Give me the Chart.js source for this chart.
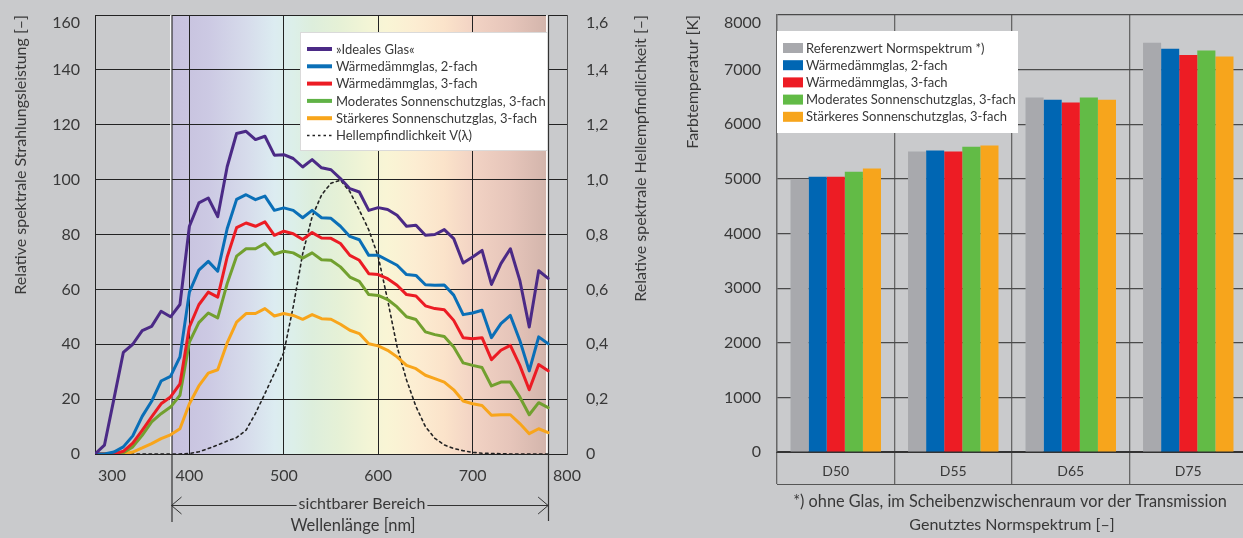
<!DOCTYPE html>
<html>
<head>
<meta charset="utf-8">
<script src="https://cdn.jsdelivr.net/npm/chart.js@4/dist/chart.umd.min.js"></script>
<style>
  html, body { margin: 0; padding: 0; background: #c9cacc; overflow: hidden; width: 1243px; height: 538px; }
  #spectrum { position: absolute; left: 0; top: 0; }
  #cct { position: absolute; left: 670px; top: 0; }
</style>
</head>
<body>
<canvas id="spectrum" width="665" height="538"></canvas>
<canvas id="cct" width="590" height="538"></canvas>
<script>
// ---------- Spectral data (10 nm steps) ----------
const wavelengths = [300, 310, 320, 330, 340, 350, 360, 370, 380, 390,
                     400, 410, 420, 430, 440, 450, 460, 470, 480, 490,
                     500, 510, 520, 530, 540, 550, 560, 570, 580, 590,
                     600, 610, 620, 630, 640, 650, 660, 670, 680, 690,
                     700, 710, 720, 730, 740, 750, 760, 770, 780];

const idealGlass = [0, 3.2, 20, 37, 40, 45, 46.5, 52, 50, 54.5,
                    83, 91.5, 93.3, 86.5, 104.7, 116.8, 117.6, 114.6, 115.8, 108.9,
                    109.1, 107.7, 104.6, 107.3, 104.3, 103.6, 100.4, 96.7, 95.5, 88.8,
                    89.8, 89.1, 87, 83, 83.4, 79.7, 80, 81.8, 78.5, 69.6,
                    71.8, 74.2, 61.8, 69.4, 74.8, 63.3, 46.3, 66.8, 64];

const insulating2 = [0, 0, 0.7, 2.6, 6.6, 13.7, 19.2, 26.6, 28.3, 35.4,
                     59, 67, 70.2, 66.6, 82.1, 92.8, 94.5, 92.7, 94, 88.8,
                     89.7, 88.8, 86.1, 88.8, 86.1, 85.9, 83, 79.3, 78.1, 72.4,
                     72.4, 70.6, 68.8, 65.4, 65.1, 61.7, 61.5, 61.6, 57.9, 50.8,
                     51.4, 52.4, 42.4, 47.5, 50.5, 41.4, 30.3, 42.7, 40.2];

const insulating3 = [0, 0, 0, 1, 4, 8.6, 13.5, 18.3, 20.8, 25.6,
                     46.3, 54.4, 59, 57.2, 71.8, 82.5, 84.2, 83, 84.6, 79.7,
                     81.2, 80.3, 78.2, 80.7, 78.7, 78.6, 76.7, 72.4, 70.6, 65.7,
                     65.4, 63.9, 61.5, 58.1, 57.6, 54, 53, 52.6, 48.7, 42.4,
                     42, 42.4, 34.4, 37.8, 39.6, 32.3, 23.4, 32.6, 30.3];

const solarModerate = [0, 0, 0, 0.5, 2.6, 6.8, 11.7, 14.7, 17.1, 21.4,
                       40.8, 47.9, 51.4, 49.6, 62.1, 72.1, 74.8, 74.8, 76.7, 72.8,
                       73.9, 73.3, 71.4, 73.3, 70.8, 70.6, 68.2, 64.5, 62.9, 58.1,
                       57.8, 56.3, 53.6, 50, 49, 44.5, 43.5, 42.8, 39, 33.2,
                       32.3, 31.5, 24.8, 26.2, 26.2, 20.8, 14.3, 18.7, 16.9];

const solarStrong = [0, 0, 0, 0.1, 0.7, 2.2, 3.8, 5.6, 7, 9.2,
                     18.3, 24.8, 29.5, 30.7, 40.5, 48.1, 51.2, 51.2, 53, 50.3,
                     51.2, 50.5, 49.1, 50.8, 49.3, 49.1, 47.3, 45.1, 43.9, 40.2,
                     39.4, 37.8, 35.4, 32.3, 31.1, 28.7, 27.5, 26.2, 23.4, 19.3,
                     18.3, 17.7, 14.1, 14.3, 14.3, 11.1, 7.4, 9.2, 7.8];

const luminosity = [0, 0, 0, 0, 0, 0, 0, 0, 0, 0,
                    0.002, 0.008, 0.02, 0.033, 0.047, 0.06, 0.087, 0.148, 0.22, 0.294,
                    0.37, 0.537, 0.73, 0.865, 0.944, 0.987, 0.998, 0.956, 0.889, 0.817,
                    0.72, 0.561, 0.391, 0.27, 0.173, 0.1, 0.057, 0.033, 0.02, 0.012,
                    0.006, 0.003, 0.002, 0.001, 0, 0, 0, 0, 0];

const visibleRange = [380, 780];
const xTickValues = [300, 400, 500, 600, 700, 800];
const leftTickLabels = ['0', '20', '40', '60', '80', '100', '120', '140', '160'];
const rightTickLabels = ['0', '0,2', '0,4', '0,6', '0,8', '1,0', '1,2', '1,4', '1,6'];

// ---------- Colour temperature data ----------
const illuminants = ['D50', 'D55', 'D65', 'D75'];
const cctReference = [5000, 5500, 6490, 7490];
const cctInsulating2 = [5040, 5520, 6450, 7380];
const cctInsulating3 = [5040, 5500, 6400, 7270];
const cctSolarModerate = [5130, 5590, 6490, 7350];
const cctSolarStrong = [5190, 5610, 6450, 7240];
const cctTickLabels = ['0', '1000', '2000', '3000', '4000', '5000', '6000', '7000', '8000'];

const FONT = 'Lato, "Open Sans", "DejaVu Sans", sans-serif';
const TEXT = '#383838';
Chart.defaults.font.family = FONT;
Chart.defaults.color = TEXT;

// visible-light backdrop colours
const bandStops = [
  [380, '#c6c0dd'], [420, '#ccc9e3'], [460, '#d6dbeb'], [490, '#dcecf1'],
  [510, '#dcefe9'], [530, '#ddeedc'], [560, '#e6f1d6'], [590, '#f3f5d6'],
  [610, '#f9f5d5'], [640, '#fcedd2'], [670, '#fbe3ca'], [700, '#f2d3c4'],
  [740, '#e6c5ba'], [780, '#d2b4ab']
];

const toPoints = vals => wavelengths.map((w, i) => ({ x: w, y: vals[i] }));

// keep the plot frame where the layout padding puts it
function noEdgePadding(s) { s.paddingTop = 0; s.paddingBottom = 0; s.paddingLeft = 0; s.paddingRight = 0; }

// the top tick label of a value axis is set a little below its grid line
function lastBlank(labels) { return (v, i) => (i === labels.length - 1 ? '' : labels[i]); }
function drawTopLabel(ctx, scale, labels, x, align) {
  const top = labels[labels.length - 1];
  ctx.save();
  ctx.font = '16px ' + FONT;
  ctx.fillStyle = TEXT;
  ctx.textAlign = align;
  ctx.textBaseline = 'middle';
  ctx.fillText(top, x, scale.getPixelForValue(scale.max) + 7.5);
  ctx.restore();
}

const spectrumDecor = {
  id: 'spectrumDecor',
  beforeDraw(chart) {
    const { ctx, chartArea: a, scales: { x } } = chart;
    const x0 = x.getPixelForValue(visibleRange[0]);
    const x1 = x.getPixelForValue(visibleRange[1]);
    const g = ctx.createLinearGradient(x0, 0, x1, 0);
    bandStops.forEach(([nm, c]) => g.addColorStop((nm - visibleRange[0]) / (visibleRange[1] - visibleRange[0]), c));
    ctx.save();
    ctx.fillStyle = g;
    ctx.fillRect(x0, a.top, x1 - x0, a.bottom - a.top);
    ctx.restore();
  },
  beforeDatasetsDraw(chart) {
    const { ctx, chartArea: a, scales: { x } } = chart;
    const x0 = Math.round(x.getPixelForValue(visibleRange[0]));
    const x1 = Math.round(x.getPixelForValue(visibleRange[1]));
    ctx.save();
    ctx.fillStyle = 'rgba(255,255,255,0.9)';
    ctx.fillRect(x0 - 1, a.top, 2, a.bottom - a.top);
    ctx.fillRect(x1 - 2, a.top, 2, a.bottom - a.top);
    ctx.strokeStyle = '#333';
    ctx.lineWidth = 1.2;
    ctx.beginPath();
    ctx.moveTo(x0 + 1, a.top); ctx.lineTo(x0 + 1, 522);
    ctx.moveTo(x1 + 0.5, a.top); ctx.lineTo(x1 + 0.5, 521);
    ctx.stroke();
    ctx.restore();
  },
  afterDatasetsDraw(chart) {
    const { ctx } = chart;
    // legend
    ctx.save();
    ctx.fillStyle = '#ffffff';
    ctx.fillRect(300, 32, 248, 119);
    ctx.strokeStyle = 'rgba(150,150,150,0.35)';
    ctx.lineWidth = 1;
    ctx.strokeRect(300.5, 32.5, 247, 118);
    ctx.font = '13px ' + FONT;
    ctx.textBaseline = 'middle';
    chart.data.datasets.forEach((ds, i) => {
      const y = 49 + i * 17.3;
      ctx.beginPath();
      ctx.strokeStyle = ds.legendColor || ds.borderColor;
      if (ds.borderDash) { ctx.setLineDash([2.5, 3]); ctx.lineWidth = 1.5; }
      else { ctx.setLineDash([]); ctx.lineWidth = 4; }
      ctx.moveTo(307, y); ctx.lineTo(332, y);
      ctx.stroke();
      ctx.setLineDash([]);
      ctx.fillStyle = TEXT;
      ctx.fillText(ds.label, 336, y + 0.5);
    });
    ctx.restore();
  },
  afterDraw(chart) {
    const { ctx, chartArea: a, scales: { x, y, y2 } } = chart;
    drawTopLabel(ctx, y, leftTickLabels, a.left - 15, 'right');
    drawTopLabel(ctx, y2, rightTickLabels, a.right + 19, 'left');
    const x0 = x.getPixelForValue(visibleRange[0]) + 1;
    const x1 = x.getPixelForValue(visibleRange[1]);
    const ay = 505;
    ctx.save();
    // first wavelength label sits just inside the frame
    ctx.font = '16px ' + FONT;
    ctx.fillStyle = TEXT;
    ctx.textAlign = 'center';
    ctx.textBaseline = 'middle';
    ctx.fillText(String(xTickValues[0]), x.getPixelForValue(xTickValues[0]) + 17, 476);

    const label = 'sichtbarer Bereich';
    const cx = 362;
    const w = ctx.measureText(label).width;
    ctx.fillText(label, cx, ay - 1);
    ctx.strokeStyle = '#333';
    ctx.lineWidth = 1;
    ctx.beginPath();
    ctx.moveTo(x0, ay + 0.5); ctx.lineTo(cx - w / 2 - 2, ay + 0.5);
    ctx.moveTo(cx + w / 2 + 2, ay + 0.5); ctx.lineTo(x1, ay + 0.5);
    ctx.moveTo(x0 + 10, ay - 8); ctx.lineTo(x0, ay + 0.5); ctx.lineTo(x0 + 10, ay + 9);
    ctx.moveTo(x1 - 10, ay - 8); ctx.lineTo(x1, ay + 0.5); ctx.lineTo(x1 - 10, ay + 9);
    ctx.stroke();
    ctx.font = '16.5px ' + FONT;
    ctx.fillText('Wellenlänge [nm]', 353, 526);
    // right axis title, reading bottom to top
    ctx.translate(641, a.top);
    ctx.rotate(-Math.PI / 2);
    ctx.textAlign = 'right';
    ctx.font = '16px ' + FONT;
    ctx.fillText('Relative spektrale Hellempfindlichkeit [–]', 0, 0);
    ctx.restore();
  }
};

new Chart(document.getElementById('spectrum'), {
  type: 'line',
  data: {
    datasets: [
      { label: '»Ideales Glas«', data: toPoints(idealGlass), borderColor: '#4b2a86', yAxisID: 'y' },
      { label: 'Wärmedämmglas, 2-fach', data: toPoints(insulating2), borderColor: '#0a6fb7', yAxisID: 'y' },
      { label: 'Wärmedämmglas, 3-fach', data: toPoints(insulating3), borderColor: '#ec1c24', yAxisID: 'y' },
      { label: 'Moderates Sonnenschutzglas, 3-fach', data: toPoints(solarModerate), borderColor: '#72a02f', legendColor: '#60b246', yAxisID: 'y' },
      { label: 'Stärkeres Sonnenschutzglas, 3-fach', data: toPoints(solarStrong), borderColor: '#f8a51b', yAxisID: 'y' },
      { label: 'Hellempfindlichkeit V(λ)', data: toPoints(luminosity), borderColor: '#222', borderWidth: 1.6, borderDash: [2.5, 3.5], yAxisID: 'y2' }
    ]
  },
  options: {
    responsive: false,
    animation: false,
    layout: { padding: { top: 15, left: 0, right: 0, bottom: 0 } },
    elements: {
      line: { borderWidth: 3, tension: 0, fill: false, borderCapStyle: 'round', borderJoinStyle: 'round' },
      point: { radius: 0 }
    },
    plugins: { legend: { display: false }, tooltip: { enabled: false } },
    scales: {
      x: {
        type: 'linear', min: 300, max: 800,
        afterBuildTicks(s) { s.ticks = xTickValues.map(v => ({ value: v })); },
        ticks: { font: { size: 16 }, color: TEXT, padding: 12, callback: v => (v === xTickValues[0] ? '' : String(v)) },
        grid: { color: '#222', lineWidth: 1, drawTicks: false },
        border: { color: '#222', width: 1 },
        afterFit(s) { s.height = 84; noEdgePadding(s); }
      },
      y: {
        position: 'left', min: 0, max: 160,
        ticks: { stepSize: 20, font: { size: 16 }, color: TEXT, padding: 15, callback: lastBlank(leftTickLabels) },
        grid: { color: '#222', lineWidth: 1, drawTicks: false },
        border: { color: '#222', width: 1 },
        title: { display: true, text: 'Relative spektrale Strahlungsleistung [–]', align: 'end', font: { size: 16 }, color: TEXT, padding: { top: 11, bottom: 0 } },
        afterFit(s) { s.width = 95; noEdgePadding(s); }
      },
      y2: {
        position: 'right', min: 0, max: 1.6,
        ticks: { stepSize: 0.2, font: { size: 16 }, color: TEXT, padding: 19, callback: lastBlank(rightTickLabels) },
        grid: { display: false, drawTicks: false },
        border: { color: '#555', width: 1 },
        afterFit(s) { s.width = 98; noEdgePadding(s); }
      }
    }
  },
  plugins: [spectrumDecor]
});

// ---------- Colour temperature bars ----------
const cctDecor = {
  id: 'cctDecor',
  afterDraw(chart) {
    const { ctx, chartArea: a, scales: { x, y } } = chart;
    drawTopLabel(ctx, y, cctTickLabels, a.left - 16, 'right');
    ctx.save();
    // bottom edge of the category label row
    ctx.strokeStyle = '#555';
    ctx.lineWidth = 1.2;
    ctx.beginPath();
    ctx.moveTo(a.left, x.top + 32.5); ctx.lineTo(a.right, x.top + 32.5);
    ctx.stroke();
    // legend
    ctx.fillStyle = '#ffffff';
    ctx.fillRect(a.left, 31, 241, 102);
    ctx.font = '13px ' + FONT;
    ctx.textBaseline = 'middle';
    chart.data.datasets.forEach((ds, i) => {
      const ly = 48 + i * 17.2;
      ctx.fillStyle = ds.backgroundColor;
      ctx.fillRect(a.left + 6, ly - 5, 20, 10);
      ctx.fillStyle = TEXT;
      ctx.fillText(ds.label, a.left + 29, ly + 0.5);
    });
    // footnote and axis title
    const cx = (a.left + a.right) / 2;
    ctx.textAlign = 'center';
    ctx.font = '16.3px ' + FONT;
    ctx.fillText('*) ohne Glas, im Scheibenzwischenraum vor der Transmission', cx - 2, 502);
    ctx.font = '16px ' + FONT;
    ctx.fillText('Genutztes Normspektrum [–]', cx, 525);
    ctx.restore();
  }
};

new Chart(document.getElementById('cct'), {
  type: 'bar',
  data: {
    labels: illuminants,
    datasets: [
      { label: 'Referenzwert Normspektrum *)', data: cctReference, backgroundColor: '#a8a9ad' },
      { label: 'Wärmedämmglas, 2-fach', data: cctInsulating2, backgroundColor: '#0066b3' },
      { label: 'Wärmedämmglas, 3-fach', data: cctInsulating3, backgroundColor: '#ed1c24' },
      { label: 'Moderates Sonnenschutzglas, 3-fach', data: cctSolarModerate, backgroundColor: '#62bb46' },
      { label: 'Stärkeres Sonnenschutzglas, 3-fach', data: cctSolarStrong, backgroundColor: '#f7a51c' }
    ]
  },
  options: {
    responsive: false,
    animation: false,
    layout: { padding: { top: 15, right: 13, left: 0, bottom: 0 } },
    datasets: { bar: { categoryPercentage: 0.77, barPercentage: 1.0 } },
    plugins: { legend: { display: false }, tooltip: { enabled: false } },
    scales: {
      x: {
        grid: { offset: true, color: '#666', lineWidth: 1.3, drawTicks: true, tickLength: 32 },
        border: { color: '#333', width: 2 },
        ticks: { font: { size: 14 }, color: TEXT, padding: -21 },
        afterFit(s) { s.height = 86; noEdgePadding(s); }
      },
      y: {
        min: 0, max: 8000,
        ticks: { stepSize: 1000, font: { size: 16 }, color: TEXT, padding: 16, callback: lastBlank(cctTickLabels) },
        grid: { color: '#4a4a4a', lineWidth: 1.2, drawTicks: false },
        border: { color: '#666', width: 1.3 },
        title: { display: true, text: 'Farbtemperatur [K]', align: 'end', font: { size: 16 }, color: TEXT, padding: { top: 13, bottom: 0 } },
        afterFit(s) { s.width = 107; noEdgePadding(s); }
      }
    }
  },
  plugins: [cctDecor]
});
</script>
</body>
</html>
